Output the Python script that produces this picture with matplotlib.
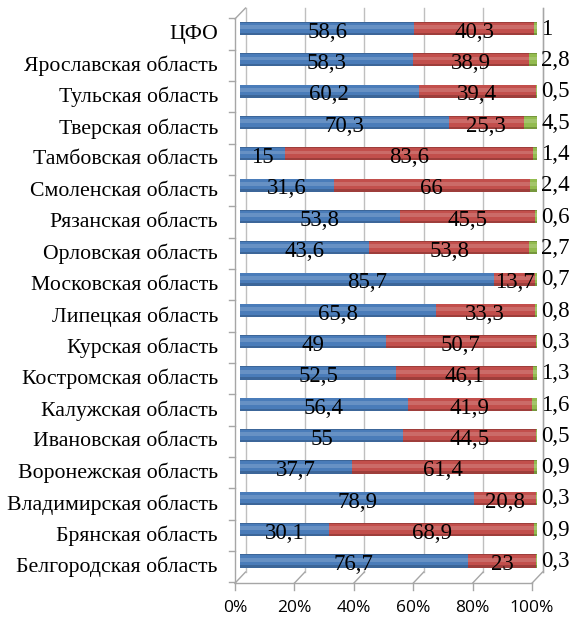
import numpy as np
import matplotlib
matplotlib.use("Agg")
import matplotlib.pyplot as plt

regions = ["ЦФО", "Ярославская область", "Тульская область", "Тверская область",
           "Тамбовская область", "Смоленская область", "Рязанская область",
           "Орловская область", "Московская область", "Липецкая область",
           "Курская область", "Костромская область", "Калужская область",
           "Ивановская область", "Воронежская область", "Владимирская область",
           "Брянская область", "Белгородская область"]
blue_vals = [58.6, 58.3, 60.2, 70.3, 15, 31.6, 53.8, 43.6, 85.7, 65.8, 49, 52.5, 56.4, 55, 37.7, 78.9, 30.1, 76.7]
red_vals = [40.3, 38.9, 39.4, 25.3, 83.6, 66, 45.5, 53.8, 13.7, 33.3, 50.7, 46.1, 41.9, 44.5, 61.4, 20.8, 68.9, 23]
green_vals = [1, 2.8, 0.5, 4.5, 1.4, 2.4, 0.6, 2.7, 0.7, 0.8, 0.3, 1.3, 1.6, 0.5, 0.9, 0.3, 0.9, 0.3]
xticks = [0, 20, 40, 60, 80, 100]

colors = ["#4A7CB9", "#C24F4C", "#93BB4F"]
shades = ["#3C6699", "#9E3E3B", "#76973C"]
wall = "#A6A6A6"

b = np.array(blue_vals, float)
r = np.array(red_vals, float)
g = np.array(green_vals, float)
tot = b + r + g
bp, rp, gp = b / tot * 100, r / tot * 100, g / tot * 100
n = len(regions)
y = np.arange(n)

W, H = 573, 621
fig = plt.figure(figsize=(W / 100, H / 100), dpi=100)
ax_l, ax_r, ax_t, ax_b = 240, 537, 12.85, 576.65
ax = fig.add_axes([ax_l / W, 1 - ax_b / H, (ax_r - ax_l) / W, (ax_b - ax_t) / H])
ax.set_xlim(0, 100)
ax.set_ylim(n - 0.5, -0.5)
ax.axis("off")

# pixel -> data helpers for the 3D frame
sx = 100 / (ax_r - ax_l)
sy = n / (ax_b - ax_t)
def X(v, dx):
    return v + dx * sx
def Y(v, dy):
    return v - dy * sy   # dy > 0 means up

ybot, ytop = n - 0.5, -0.5
fdx, fdy = -5, -6.5      # front edge offset
bdx, bdy = 5.5, 4.6      # back wall offset
kw = dict(color=wall, lw=1, clip_on=False, zorder=1)

# back wall gridlines
for t in xticks:
    ax.plot([X(t, bdx), X(t, bdx)], [Y(ybot, bdy), Y(ytop, 4.8)], color="#BFBFBF", lw=1, clip_on=False, zorder=0)
# front floor edge, ticks and floor diagonals
ax.plot([X(0, fdx), X(100, fdx)], [Y(ybot, fdy), Y(ybot, fdy)], **kw)
for t in xticks:
    ax.plot([X(t, fdx), X(t, fdx)], [Y(ybot, fdy), Y(ybot, fdy - 7)], **kw)
    ax.plot([X(t, fdx), X(t, bdx)], [Y(ybot, fdy), Y(ybot, bdy)], **kw)
ax.plot([X(100, bdx), X(100, bdx)], [Y(ybot, bdy), Y(ytop, 4.8)], **kw)
# left wall
ax.plot([X(0, fdx), X(0, fdx)], [Y(ybot, fdy), Y(ytop, -6)], **kw)
ax.plot([X(0, fdx), X(0, bdx)], [Y(ytop, -6), Y(ytop, 4.8)], **kw)
for k in range(n + 1):
    yy = Y(k - 0.5, fdy + 1)
    ax.plot([X(0, fdx), X(0, fdx - 6)], [yy, yy], **kw)

# cylinder-like bars: darker base, lit band across the upper middle
h = 0.42
lefts = [np.zeros(n), bp, bp + rp]
widths = [bp, rp, gp]
for w, l, c, s in zip(widths, lefts, colors, shades):
    ax.barh(y, w, left=l, height=h, color=s, lw=0, zorder=3)
    ax.barh(y - h * 0.06, w, left=l, height=h * 0.78, color=c, lw=0, zorder=3)
    ax.barh(y - h * 0.1, w, left=l, height=h * 0.3, color="white", alpha=0.16, lw=0, zorder=4)

def fmt(v):
    return ("%g" % v).replace(".", ",")

serif = "Liberation Serif"
for i in range(n):
    ax.text(bp[i] / 2, y[i] + 0.12, fmt(b[i]), ha="center", va="center", fontsize=16.5, family=serif, zorder=5)
    ax.text(bp[i] + rp[i] / 2, y[i] + 0.12, fmt(r[i]), ha="center", va="center", fontsize=16.5, family=serif, zorder=5)
    ax.text(X(100, 4), y[i] + 0.02, fmt(g[i]), ha="left", va="center", fontsize=16.5, family=serif, zorder=5, clip_on=False)
    ax.text(X(0, -22), y[i] + 0.19, regions[i], ha="right", va="center", fontsize=15.7, family=serif, clip_on=False)

for t in xticks:
    ax.text(X(t, fdx), Y(ybot, fdy - 25), "%d%%" % t, ha="center", va="center", fontsize=12.5, family="Open Sans", clip_on=False)

fig.savefig("out.png", dpi=100)
